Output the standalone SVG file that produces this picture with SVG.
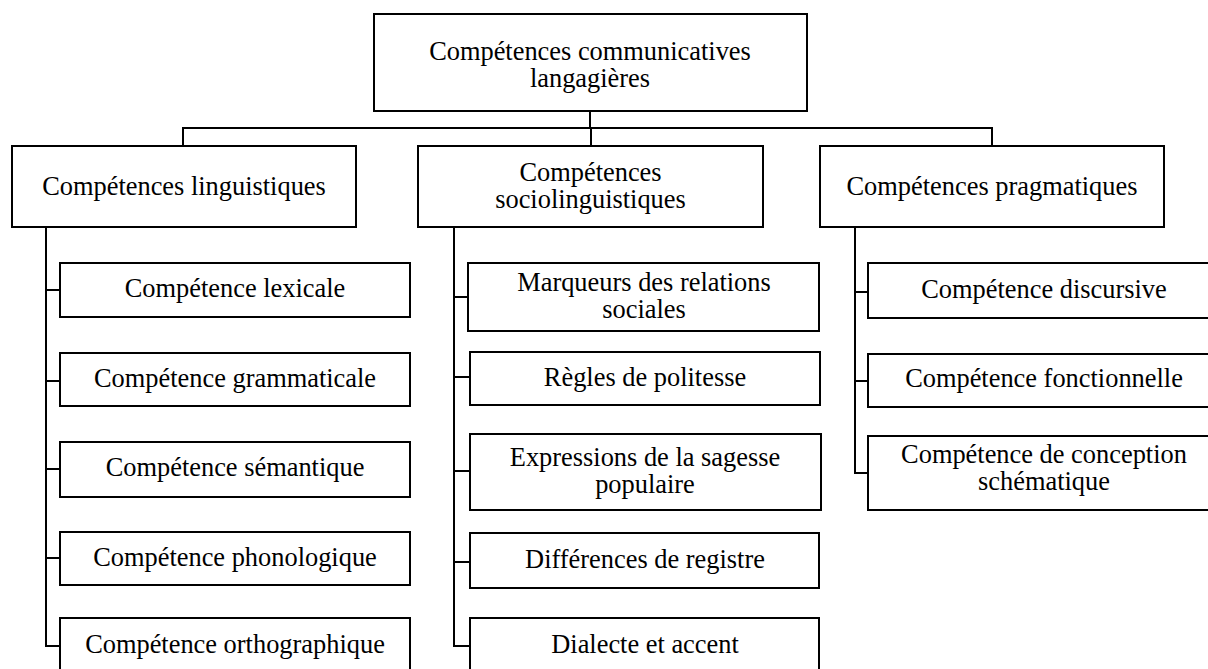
<svg xmlns="http://www.w3.org/2000/svg" width="1208" height="669" viewBox="0 0 1208 669">
<style>
rect{fill:#fff;stroke:#000;stroke-width:2}
text{font-family:'Liberation Serif','Tinos','DejaVu Serif',serif;font-size:26.4px;fill:#000;text-anchor:middle}
#connectors path{fill:none;stroke:#000;stroke-width:2}
</style>
<rect x="0" y="0" width="1208" height="669" style="stroke:none"/>
<g id="connectors">
<path d="M590 111V128M183 146V128H992V146M591 128V146"/>
<path d="M46 227V646H60M46 290H60M46 381H60M46 469H60M46 558H60"/>
<path d="M454 227V646H469M454 297H468M454 377H470M454 471H470M454 562H470"/>
<path d="M855 227V473H868M855 292H868M855 381H868"/>
</g>
<g id="root"><rect x="374" y="14" width="433" height="97"/><text x="590" y="60">Compétences communicatives</text><text x="590" y="87">langagières</text></g>
<g id="ling"><rect x="12" y="146" width="344" height="81"/><text x="184" y="195">Compétences linguistiques</text></g>
<g id="socio"><rect x="418" y="146" width="345" height="81"/><text x="590.5" y="181">Compétences</text><text x="590.5" y="208">sociolinguistiques</text></g>
<g id="prag"><rect x="820" y="146" width="344" height="81"/><text x="992" y="195">Compétences pragmatiques</text></g>
<g id="lex"><rect x="60" y="263" width="350" height="54"/><text x="235" y="297">Compétence lexicale</text></g>
<g id="gram"><rect x="60" y="353" width="350" height="53"/><text x="235" y="387">Compétence grammaticale</text></g>
<g id="sem"><rect x="60" y="442" width="350" height="55"/><text x="235" y="476">Compétence sémantique</text></g>
<g id="phon"><rect x="60" y="532" width="350" height="53"/><text x="235" y="566">Compétence phonologique</text></g>
<g id="orth"><rect x="60" y="618" width="350" height="60"/><text x="235" y="653">Compétence orthographique</text></g>
<g id="marq"><rect x="468" y="263" width="351" height="68"/><text x="644" y="291">Marqueurs des relations</text><text x="644" y="318">sociales</text></g>
<g id="regl"><rect x="470" y="352" width="350" height="53"/><text x="645" y="386">Règles de politesse</text></g>
<g id="expr"><rect x="470" y="434" width="351" height="76"/><text x="645" y="466">Expressions de la sagesse</text><text x="645" y="493">populaire</text></g>
<g id="diff"><rect x="470" y="533" width="349" height="55"/><text x="645" y="568">Différences de registre</text></g>
<g id="dial"><rect x="470" y="618" width="349" height="60"/><text x="645" y="653">Dialecte et accent</text></g>
<g id="disc"><rect x="868" y="263" width="352" height="55"/><text x="1044" y="298">Compétence discursive</text></g>
<g id="fonc"><rect x="868" y="354" width="352" height="53"/><text x="1044" y="387">Compétence fonctionnelle</text></g>
<g id="conc"><rect x="868" y="436" width="352" height="74"/><text x="1044" y="463">Compétence de conception</text><text x="1044" y="490">schématique</text></g>
</svg>
